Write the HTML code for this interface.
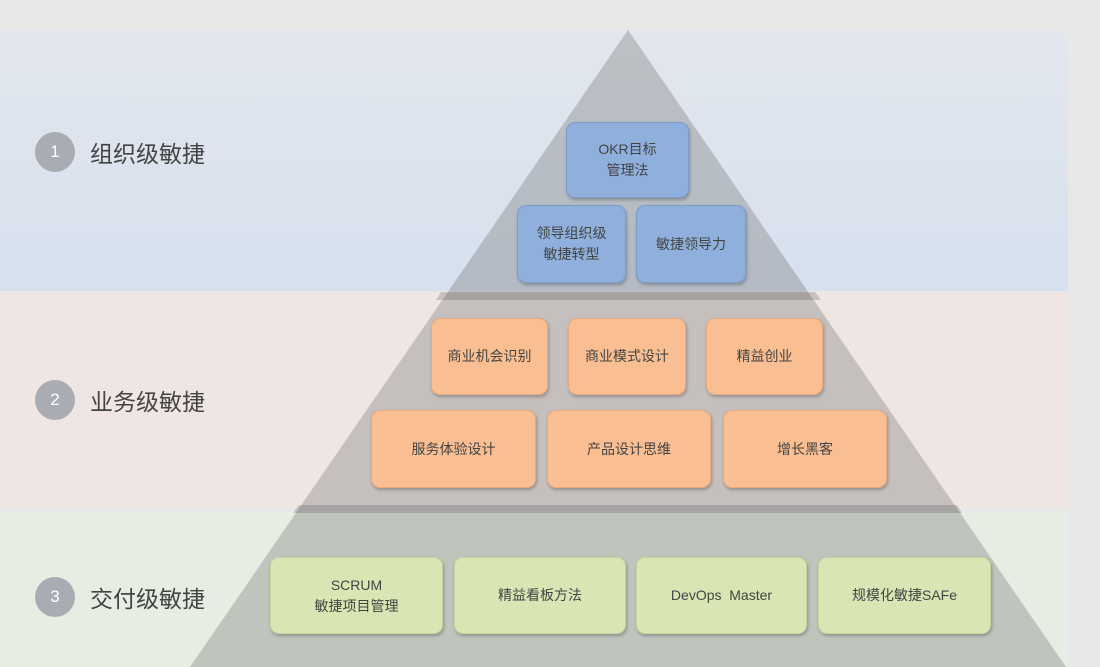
<!DOCTYPE html>
<html><head><meta charset="utf-8"><style>
body{margin:0;width:1100px;height:667px;overflow:hidden;background:#e8e8e8;font-family:"Liberation Sans","Noto Sans CJK SC",sans-serif;position:relative}
.band{position:absolute;left:0;width:1068px}
.lbl{position:absolute;left:35px;display:flex;align-items:center;font-size:23px;color:#444}
.lbl span{display:inline-block;width:40px;height:40px;border-radius:50%;background:#a9adb3;color:#fff;font-size:17px;text-align:center;line-height:40px;margin-right:15px}
.b{position:absolute;border-radius:9px;display:flex;align-items:center;justify-content:center;text-align:center;font-size:14px;color:#444;line-height:21px;box-shadow:1px 2px 3px rgba(0,0,0,.25)}
.bl{background:#8fb0dc;border:1px solid #7d9cc8}
.or{background:#f9bf92;border:1px solid #e6aa7e}
.gr{background:#d8e6b4;border:1px solid #c4d49f}
</style></head><body>
<div class="band" style="top:30px;height:261px;background:linear-gradient(#e3e7ee,#d6e0ee)"></div>
<div class="band" style="top:292px;height:216px;background:#efe6e3"></div>
<div class="band" style="top:512px;height:155px;background:#e7ede3"></div>
<svg width="1100" height="667" style="position:absolute;left:0;top:0">
<polygon points="628,30 1066,667 190,667" fill="rgba(90,90,90,0.28)"/>
<polygon points="441,292 815,292 821,300 436,300" fill="rgba(80,80,80,0.25)"/>
<polygon points="299,505 957,505 962,513 293,513" fill="rgba(80,80,80,0.25)"/>
</svg>
<div class="lbl" style="top:132px"><span>1</span>组织级敏捷</div>
<div class="lbl" style="top:380px"><span>2</span>业务级敏捷</div>
<div class="lbl" style="top:577px"><span>3</span>交付级敏捷</div>
<div class="b bl" style="left:566px;top:122px;width:121px;height:74px">OKR目标<br>管理法</div>
<div class="b bl" style="left:517px;top:205px;width:107px;height:76px">领导组织级<br>敏捷转型</div>
<div class="b bl" style="left:636px;top:205px;width:108px;height:76px">敏捷领导力</div>
<div class="b or" style="left:431px;top:318px;width:115px;height:75px">商业机会识别</div>
<div class="b or" style="left:568px;top:318px;width:116px;height:75px">商业模式设计</div>
<div class="b or" style="left:706px;top:318px;width:115px;height:75px">精益创业</div>
<div class="b or" style="left:371px;top:410px;width:163px;height:76px">服务体验设计</div>
<div class="b or" style="left:547px;top:410px;width:162px;height:76px">产品设计思维</div>
<div class="b or" style="left:723px;top:410px;width:162px;height:76px">增长黑客</div>
<div class="b gr" style="left:270px;top:557px;width:171px;height:75px">SCRUM<br>敏捷项目管理</div>
<div class="b gr" style="left:454px;top:557px;width:170px;height:75px">精益看板方法</div>
<div class="b gr" style="left:636px;top:557px;width:169px;height:75px">DevOps&nbsp; Master</div>
<div class="b gr" style="left:818px;top:557px;width:171px;height:75px">规模化敏捷SAFe</div>
</body></html>
